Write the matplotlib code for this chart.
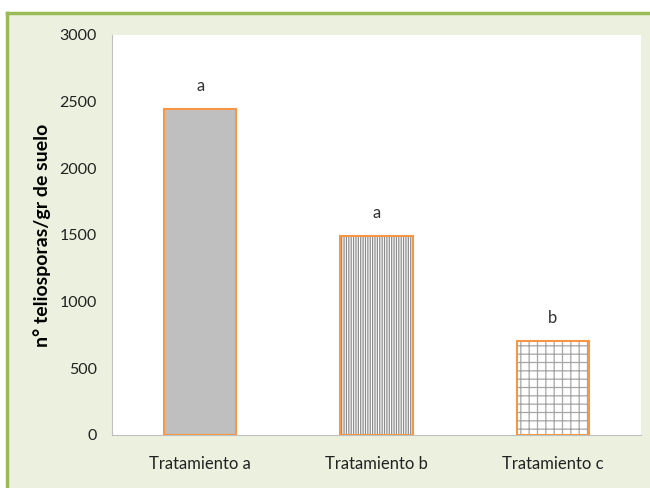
import matplotlib.pyplot as plt
from matplotlib.patches import Rectangle
from matplotlib.lines import Line2D

categories = ["Tratamiento a", "Tratamiento b", "Tratamiento c"]
values = [2445, 1492, 705]
letters = ["a", "a", "b"]
hatches = ["", "|||||||", "++"]
fills = ["#BFBFBF", "white", "white"]
hatch_colors = ["#A6A6A6", "#8C8C8C", "#A6A6A6"]

plt.rcParams["font.family"] = ["Lato", "DejaVu Sans"]
plt.rcParams["hatch.linewidth"] = 0.9

fig = plt.figure(figsize=(6.5, 4.88), dpi=100)
fig.patch.set_facecolor("white")

# pale green panel with green border on top and left
x0, y1 = 7 / 650, 1 - 13 / 488
fig.patches.append(Rectangle((x0, 0), 1 - x0, y1, transform=fig.transFigure,
                             facecolor="#EBF1DE", edgecolor="none", zorder=-5))
fig.lines.append(Line2D([x0, 1], [y1, y1], transform=fig.transFigure,
                        color="#9BBB59", lw=2.5, zorder=-4))
fig.lines.append(Line2D([x0, x0], [0, y1], transform=fig.transFigure,
                        color="#9BBB59", lw=2.5, zorder=-4))

ax = fig.add_axes([112 / 650, 1 - 435 / 488, 529 / 650, 400 / 488])
ax.set_facecolor("white")

pos = range(len(categories))
for i, (v, h, fc, hc) in enumerate(zip(values, hatches, fills, hatch_colors)):
    ax.bar(i, v, width=0.41, color=fc, hatch=h, edgecolor=hc, linewidth=0)
    ax.bar(i, v, width=0.41, fill=False, edgecolor="#F79646", linewidth=1.5)
    ax.text(i, v + 110, letters[i], ha="center", va="bottom", fontsize=12, color="#333333")

ax.set_xlim(-0.5, 2.5)
ax.set_ylim(0, 3000)
ax.set_yticks(range(0, 3001, 500))
ax.set_xticks(list(pos))
ax.set_xticklabels(categories, fontsize=12)
ax.tick_params(axis="both", length=0, colors="#222222")
ax.tick_params(axis="y", pad=11, labelsize=11.5)
ax.tick_params(axis="x", pad=15)
ax.set_ylabel("n° teliosporas/gr de suelo", fontsize=14, fontweight="bold")
ax.yaxis.set_label_coords(-0.115, 0.5)

for side in ["top", "right"]:
    ax.spines[side].set_visible(False)
for side in ["left", "bottom"]:
    ax.spines[side].set_color("#BFBFBF")

fig.savefig("out.png", dpi=100)
